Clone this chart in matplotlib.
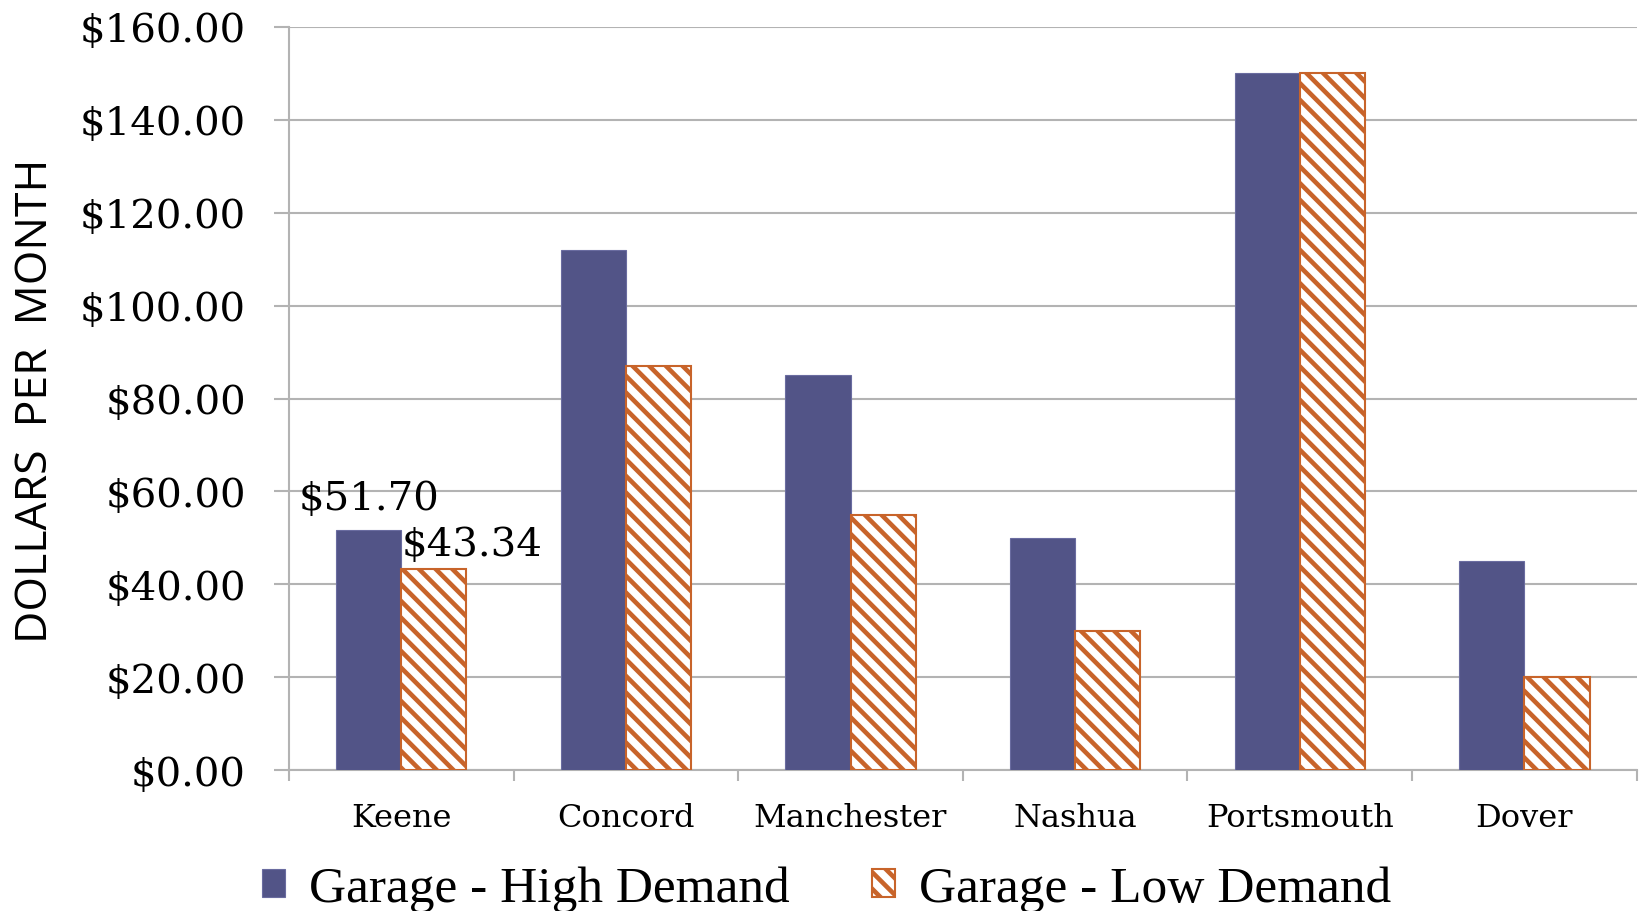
import matplotlib
matplotlib.use('Agg')
import matplotlib.pyplot as plt
import numpy as np

# Monthly garage parking rates by city
cities = ['Keene', 'Concord', 'Manchester', 'Nashua', 'Portsmouth', 'Dover']
high_demand = [51.70, 112.00, 85.00, 50.00, 150.00, 45.00]
low_demand = [43.34, 87.00, 55.00, 30.00, 150.00, 20.00]
y_ticks = [0, 20, 40, 60, 80, 100, 120, 140, 160]

blue = '#525487'
orange = '#C8642A'
grid_gray = '#b3b3b3'

plt.rcParams['hatch.linewidth'] = 3.3
plt.rcParams['hatch.color'] = orange

fig = plt.figure(figsize=(16.4, 9.12), dpi=100)
ax = fig.add_axes([0.1762, 0.1546, 0.8218, 0.8147])

x = np.arange(len(cities))
w = 0.29
ax.bar(x - w / 2, high_demand, w, color=blue, edgecolor='#6a6ca0', linewidth=0.8, zorder=3,
       label='Garage - High Demand')
ax.bar(x + w / 2, low_demand, w, color='white', edgecolor=orange, hatch='\\\\', linewidth=1.5, zorder=3,
       label='Garage - Low Demand')

# Value labels on the Keene bars only
ax.text(x[0] - w / 2, high_demand[0] + 4.5, f'${high_demand[0]:.2f}', ha='center', va='baseline',
        fontsize=29, family='DejaVu Serif', zorder=4)
ax.text(x[0], low_demand[0] + 2.9, f'${low_demand[0]:.2f}', ha='left', va='baseline',
        fontsize=29, family='DejaVu Serif', zorder=4)

ax.set_xlim(-0.5, len(cities) - 0.5)
ax.set_ylim(0, 160)
ax.set_yticks(y_ticks)
ax.set_yticklabels([f'${v:.2f}' for v in y_ticks], family='DejaVu Serif', fontsize=29)
ax.yaxis.grid(True, color=grid_gray, linewidth=1.5, zorder=0)
ax.tick_params(axis='y', length=11, width=1.5, color=grid_gray, pad=20)

ax.set_xticks(x)
ax.set_xticklabels(cities, family='DejaVu Serif', fontsize=23)
ax.set_xticks(np.arange(-0.5, len(cities)), minor=True)
ax.tick_params(axis='x', which='major', length=0, pad=23)
ax.tick_params(axis='x', which='minor', length=8, width=1.5, color=grid_gray)

for side in ['top', 'right']:
    ax.spines[side].set_visible(False)
for side in ['left', 'bottom']:
    ax.spines[side].set_color(grid_gray)
    ax.spines[side].set_linewidth(1.5)

fig.text(0.022, 0.561, 'DOLLARS  PER  MONTH', rotation=90, ha='center', va='center',
         fontsize=32, family='Open Sans')

fig.legend(loc='center', bbox_to_anchor=(0.504, 0.024), ncol=2, frameon=False,
           prop={'family': 'Liberation Serif', 'size': 37}, handlelength=0.45, handleheight=0.45,
           handletextpad=0.47, columnspacing=1.6, borderpad=0)

fig.savefig('out.png', dpi=100)
